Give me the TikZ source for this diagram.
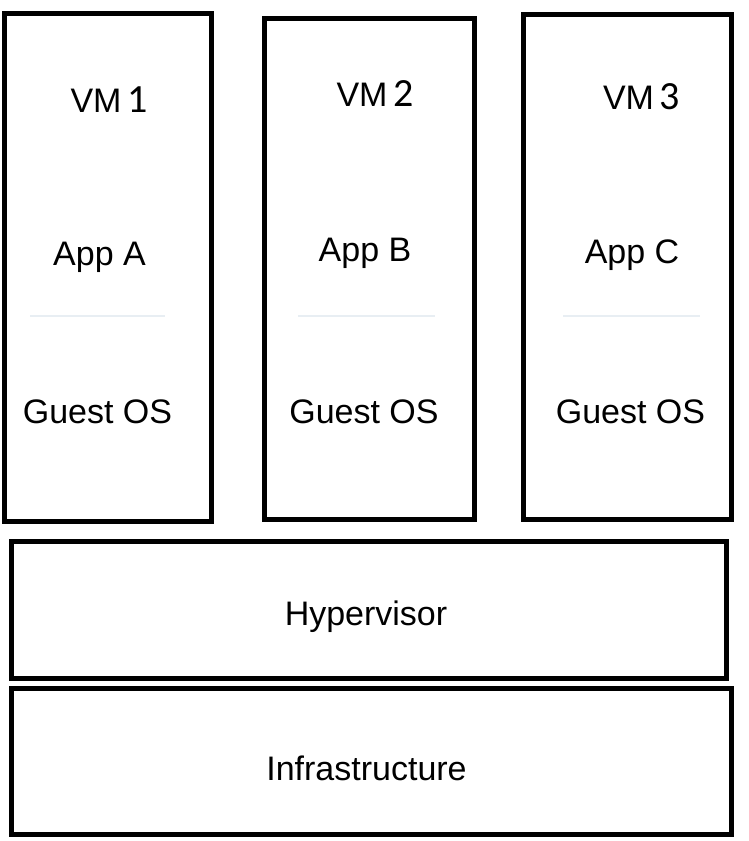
\documentclass[tikz,border=0pt]{standalone}
\usepackage{fontspec}
\setmainfont{Liberation Sans}
\newfontfamily\digitfont{Carlito}
\usepackage{tikz}
\usetikzlibrary{positioning, calc}

\definecolor{sepgray}{RGB}{232,238,243}
\newcommand{\vmnum}[1]{\,{\digitfont\fontsize{40}{44}\selectfont #1}}

\begin{document}
\begin{tikzpicture}[
  x=1pt, y=-1pt,
  frame/.style = {draw, line width=5pt, inner sep=0pt, outer sep=0pt},
  label/.style = {anchor=base, inner sep=0pt, font=\fontsize{34}{40}\selectfont},
  sep/.style = {draw=sepgray, line width=2pt}
]
  \useasboundingbox (0,0) rectangle (749,841);

  % VM frames
  \node[frame, minimum width=207pt, minimum height=508pt] (vm1) at (107.5,267) {};
  \node[frame, minimum width=209.5pt, minimum height=501.5pt] (vm2) at (369.25,268.75) {};
  \node[frame, minimum width=208pt, minimum height=505pt] (vm3) at (627,267) {};

  % Lower layers
  \node[frame, minimum width=715pt, minimum height=136.5pt] (hyper) at (368.5,609.75) {};
  \node[frame, minimum width=720pt, minimum height=146pt] (infra) at (371,761) {};

  % VM labels
  \node[label] (vm1_t) at (109,112) {VM\vmnum{1}};
  \node[label] (vm2_t) at (375,106) {VM\vmnum{2}};
  \node[label] (vm3_t) at (641.5,109) {VM\vmnum{3}};

  % Apps
  \node[label] (app_a) at (99.5,265) {App A};
  \node[label] (app_b) at (365,261) {App B};
  \node[label] (app_c) at (632,263) {App C};

  % Separators
  \coordinate (s1a) at (30,316);  \coordinate (s1b) at (165,316);
  \coordinate (s2a) at (298,316); \coordinate (s2b) at (435,316);
  \coordinate (s3a) at (563,316); \coordinate (s3b) at (700,316);
  \draw[sep] (s1a) -- (s1b);
  \draw[sep] (s2a) -- (s2b);
  \draw[sep] (s3a) -- (s3b);

  % Guest OS
  \node[label] (os1) at (97.5,423) {Guest OS};
  \node[label] (os2) at (364,423) {Guest OS};
  \node[label] (os3) at (630.5,423) {Guest OS};

  % Layer labels
  \node[label] (hyper_t) at (366,625) {Hypervisor};
  \node[label] (infra_t) at (366.5,780) {Infrastructure};

\end{tikzpicture}
\end{document}
